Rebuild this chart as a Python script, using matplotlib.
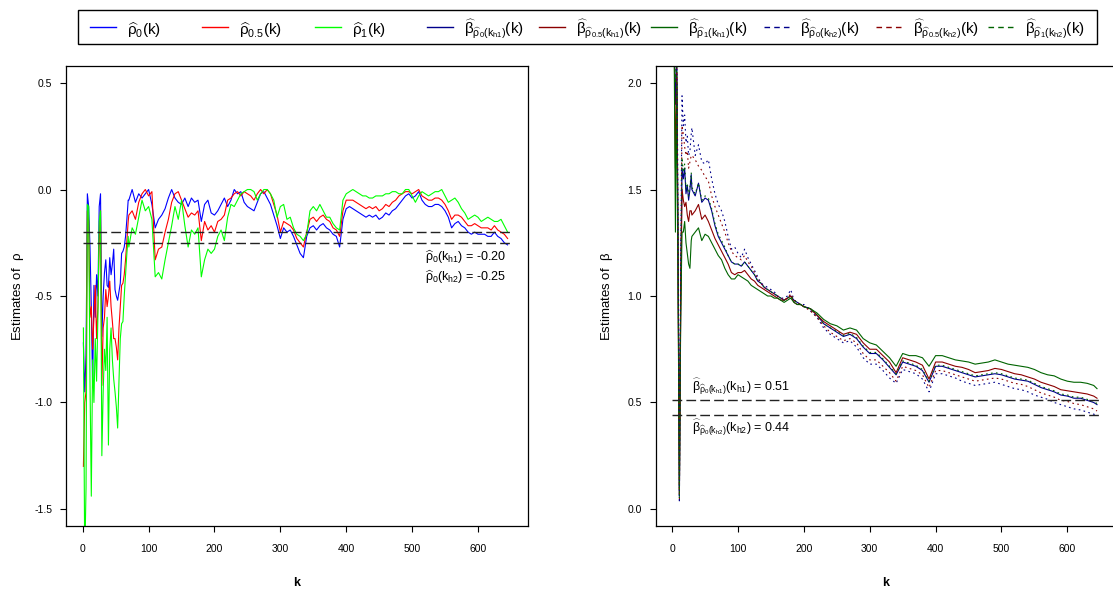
import matplotlib
matplotlib.use("Agg")
import matplotlib.pyplot as plt
from matplotlib.lines import Line2D
from matplotlib.patches import Rectangle

plt.rcParams["font.family"] = "Liberation Sans"
plt.rcParams["mathtext.fontset"] = "custom"
plt.rcParams["mathtext.rm"] = "Liberation Sans"
plt.rcParams["mathtext.it"] = "Liberation Sans"
plt.rcParams["mathtext.bf"] = "Liberation Sans:bold"
plt.rcParams["axes.unicode_minus"] = False

# ---- data ----
k_rho = list(range(1, 70, 2)) + list(range(70, 646, 5))

rho_0 = [-0.72, -0.95, -0.78, -0.02, -0.08, -0.27, -0.55, -0.93, -0.45, -0.60,
         -0.40, -0.50, -0.08, -0.02, -0.69, -0.50, -0.39, -0.33, -0.45, -0.46,
         -0.32, -0.40, -0.35, -0.28, -0.47, -0.50, -0.52, -0.48, -0.44, -0.30,
         -0.29, -0.27, -0.22, -0.14, -0.05,
         -0.05, 0.00, -0.06, -0.02, -0.04, -0.02, 0.00, -0.07, -0.18, -0.14,
         -0.12, -0.09, -0.04, 0.00, -0.04, -0.06, -0.07, -0.04, -0.08, -0.04,
         -0.06, -0.05, -0.15, -0.07, -0.05, -0.11, -0.12, -0.10, -0.07, -0.04,
         -0.08, -0.05, 0.00, -0.02, -0.01, -0.06, -0.08, -0.09, -0.10, -0.06,
         -0.02, -0.01, -0.04, -0.07, -0.12, -0.17, -0.23, -0.18, -0.20, -0.19,
         -0.22, -0.26, -0.30, -0.32, -0.22, -0.18, -0.17, -0.19, -0.17, -0.16,
         -0.18, -0.19, -0.21, -0.22, -0.27, -0.14, -0.09, -0.08, -0.09, -0.10,
         -0.11, -0.12, -0.13, -0.12, -0.13, -0.12, -0.14, -0.13, -0.11, -0.12,
         -0.10, -0.09, -0.07, -0.05, -0.03, -0.02, -0.04, -0.03, -0.01, -0.05,
         -0.07, -0.08, -0.08, -0.07, -0.07, -0.08, -0.10, -0.13, -0.18, -0.16,
         -0.15, -0.17, -0.18, -0.20, -0.21, -0.20, -0.21, -0.21, -0.21, -0.22,
         -0.22, -0.20, -0.22, -0.23, -0.25, -0.26]

rho_05 = [-1.30, -1.00, -0.95, -0.10, -0.15, -0.60, -0.55, -0.75, -0.60, -0.45,
          -0.70, -0.55, -0.25, -0.10, -0.92, -0.65, -0.60, -0.47, -0.55, -0.50,
          -0.43, -0.55, -0.62, -0.70, -0.70, -0.74, -0.80, -0.65, -0.55, -0.45,
          -0.44, -0.40, -0.33, -0.24, -0.15,
          -0.12, -0.10, -0.14, -0.06, -0.02, 0.00, -0.03, -0.01, -0.33, -0.28,
          -0.27, -0.20, -0.14, -0.06, -0.02, -0.01, -0.05, -0.09, -0.13, -0.11,
          -0.12, -0.10, -0.24, -0.15, -0.19, -0.17, -0.20, -0.15, -0.14, -0.12,
          -0.05, -0.04, -0.02, -0.01, -0.03, -0.01, -0.02, -0.03, -0.05, -0.02,
          0.00, -0.02, 0.00, -0.02, -0.07, -0.12, -0.20, -0.15, -0.16, -0.17,
          -0.19, -0.23, -0.25, -0.27, -0.20, -0.14, -0.13, -0.15, -0.13, -0.12,
          -0.14, -0.15, -0.18, -0.19, -0.22, -0.10, -0.05, -0.05, -0.05, -0.06,
          -0.07, -0.08, -0.09, -0.08, -0.09, -0.08, -0.10, -0.09, -0.07, -0.08,
          -0.06, -0.05, -0.03, -0.02, -0.01, -0.01, -0.02, -0.01, 0.00, -0.03,
          -0.04, -0.05, -0.05, -0.04, -0.04, -0.05, -0.07, -0.10, -0.14, -0.12,
          -0.12, -0.13, -0.15, -0.17, -0.17, -0.16, -0.17, -0.18, -0.18, -0.18,
          -0.19, -0.17, -0.19, -0.20, -0.21, -0.23]

rho_1 = [-0.65, -1.75, -1.40, -0.07, -0.08, -0.90, -1.44, -0.80, -1.00, -0.70,
         -0.90, -0.60, -0.15, -0.10, -1.25, -0.95, -0.75, -0.85, -0.60, -1.20,
         -0.75, -0.65, -0.80, -0.89, -0.95, -1.02, -1.12, -0.90, -0.70, -0.63,
         -0.62, -0.50, -0.40, -0.30, -0.22,
         -0.27, -0.18, -0.21, -0.13, -0.05, -0.10, -0.08, -0.14, -0.41, -0.39,
         -0.42, -0.33, -0.25, -0.17, -0.08, -0.14, -0.05, -0.17, -0.27, -0.19,
         -0.21, -0.18, -0.41, -0.33, -0.28, -0.30, -0.28, -0.22, -0.19, -0.24,
         -0.13, -0.07, -0.08, -0.05, -0.02, -0.01, 0.00, 0.00, -0.01, -0.05,
         -0.02, 0.00, 0.00, -0.02, -0.05, -0.13, -0.08, -0.07, -0.14, -0.13,
         -0.18, -0.21, -0.22, -0.24, -0.21, -0.10, -0.08, -0.10, -0.07, -0.10,
         -0.13, -0.13, -0.16, -0.18, -0.19, -0.05, -0.02, -0.01, 0.00, -0.01,
         -0.02, -0.03, -0.03, -0.04, -0.04, -0.03, -0.03, -0.03, -0.02, -0.02,
         -0.01, -0.01, -0.02, -0.02, 0.00, 0.00, -0.03, -0.06, -0.03, -0.01,
         -0.02, -0.03, -0.02, -0.01, -0.01, 0.00, -0.03, -0.06, -0.05, -0.04,
         -0.06, -0.09, -0.11, -0.14, -0.13, -0.12, -0.13, -0.15, -0.14, -0.13,
         -0.14, -0.15, -0.15, -0.14, -0.17, -0.20]

rho_h1, rho_h2 = -0.20, -0.25

k_beta = list(range(1, 30, 2)) + list(range(30, 201, 5)) + list(range(210, 641, 10)) + [645]

beta_0_h1 = [2.50, 2.30, 1.90, 2.10, 1.20, 0.06, 1.00, 1.60, 1.55, 1.60, 1.48, 1.52, 1.45, 1.50, 1.57,
             1.50, 1.47, 1.53, 1.44, 1.46, 1.45, 1.40, 1.33, 1.28, 1.25, 1.22, 1.19, 1.16, 1.15,
             1.15, 1.14, 1.16, 1.14, 1.12, 1.10, 1.07, 1.06, 1.04, 1.03, 1.02, 1.01, 1.00, 0.99,
             0.98, 0.99, 1.00, 0.98, 0.97, 0.96, 0.95,
             0.94, 0.91, 0.87, 0.85, 0.83, 0.81, 0.82, 0.80, 0.76, 0.73, 0.73, 0.70, 0.665, 0.63,
             0.69, 0.68, 0.67, 0.65, 0.595, 0.67, 0.67, 0.66, 0.65, 0.64, 0.63, 0.62, 0.625, 0.63,
             0.635, 0.63, 0.62, 0.61, 0.605, 0.60, 0.585, 0.57, 0.56, 0.55, 0.535, 0.53, 0.52,
             0.52, 0.51, 0.50, 0.49]

beta_05_h1 = [2.45, 2.25, 1.60, 2.05, 1.10, 0.08, 0.95, 1.50, 1.45, 1.42, 1.44, 1.38, 1.35, 1.40, 1.40,
              1.38, 1.40, 1.43, 1.36, 1.38, 1.35, 1.31, 1.27, 1.24, 1.21, 1.18, 1.15, 1.11, 1.10,
              1.11, 1.11, 1.12, 1.10, 1.08, 1.07, 1.05, 1.04, 1.03, 1.02, 1.01, 1.00, 0.99, 0.98,
              0.98, 0.99, 1.00, 0.97, 0.96, 0.96, 0.95,
              0.94, 0.91, 0.88, 0.86, 0.84, 0.82, 0.83, 0.82, 0.78, 0.75, 0.75, 0.72, 0.69, 0.64,
              0.71, 0.70, 0.69, 0.675, 0.61, 0.69, 0.69, 0.68, 0.67, 0.665, 0.655, 0.64, 0.645,
              0.65, 0.66, 0.655, 0.645, 0.635, 0.63, 0.62, 0.61, 0.595, 0.585, 0.575, 0.56, 0.555,
              0.55, 0.545, 0.54, 0.53, 0.52]

beta_1_h1 = [2.40, 2.20, 1.30, 2.00, 1.00, 0.10, 0.90, 1.30, 1.30, 1.35, 1.25, 1.20, 1.15, 1.13, 1.26,
             1.28, 1.30, 1.32, 1.26, 1.29, 1.28, 1.25, 1.22, 1.19, 1.17, 1.13, 1.10, 1.08, 1.08,
             1.10, 1.09, 1.08, 1.07, 1.05, 1.04, 1.03, 1.02, 1.01, 1.00, 1.00, 0.99, 0.99, 0.98,
             0.97, 0.98, 0.99, 0.97, 0.96, 0.96, 0.95,
             0.94, 0.92, 0.89, 0.87, 0.86, 0.84, 0.85, 0.84, 0.80, 0.78, 0.77, 0.74, 0.71, 0.67,
             0.73, 0.72, 0.72, 0.71, 0.67, 0.72, 0.72, 0.71, 0.70, 0.695, 0.69, 0.68, 0.685, 0.69,
             0.70, 0.69, 0.68, 0.675, 0.67, 0.665, 0.655, 0.64, 0.63, 0.625, 0.61, 0.60, 0.595,
             0.595, 0.59, 0.58, 0.565]

beta_0_h2 = [2.60, 2.40, 2.30, 2.20, 1.40, 0.03, 1.20, 1.94, 1.80, 1.85, 1.72, 1.75, 1.66, 1.68, 1.76,
             1.79, 1.66, 1.71, 1.63, 1.62, 1.64, 1.55, 1.48, 1.43, 1.40, 1.35, 1.28, 1.22, 1.23,
             1.20, 1.18, 1.22, 1.18, 1.15, 1.12, 1.09, 1.06, 1.05, 1.04, 1.03, 1.02, 1.00, 0.99,
             0.99, 1.00, 1.03, 0.98, 0.97, 0.96, 0.96,
             0.93, 0.90, 0.85, 0.82, 0.80, 0.78, 0.79, 0.76, 0.71, 0.68, 0.68, 0.65, 0.615, 0.59,
             0.655, 0.645, 0.635, 0.61, 0.55, 0.635, 0.635, 0.625, 0.615, 0.60, 0.59, 0.58, 0.585,
             0.59, 0.595, 0.585, 0.575, 0.565, 0.56, 0.55, 0.535, 0.525, 0.515, 0.50, 0.49, 0.48,
             0.47, 0.465, 0.455, 0.445, 0.44]

beta_05_h2 = [2.55, 2.35, 2.10, 2.15, 1.30, 0.05, 1.10, 1.80, 1.76, 1.70, 1.66, 1.68, 1.60, 1.63, 1.66,
              1.66, 1.64, 1.61, 1.59, 1.56, 1.54, 1.47, 1.42, 1.38, 1.34, 1.30, 1.25, 1.21, 1.19,
              1.18, 1.17, 1.19, 1.16, 1.14, 1.11, 1.08, 1.06, 1.04, 1.03, 1.02, 1.01, 1.00, 0.99,
              0.98, 0.99, 1.01, 0.98, 0.97, 0.96, 0.95,
              0.93, 0.90, 0.86, 0.83, 0.81, 0.79, 0.80, 0.78, 0.73, 0.70, 0.70, 0.67, 0.64, 0.60,
              0.67, 0.66, 0.65, 0.63, 0.57, 0.65, 0.65, 0.64, 0.63, 0.62, 0.61, 0.60, 0.605, 0.61,
              0.615, 0.61, 0.60, 0.59, 0.585, 0.575, 0.56, 0.545, 0.535, 0.525, 0.51, 0.505, 0.495,
              0.49, 0.48, 0.47, 0.46]

beta_1_h2 = [2.50, 2.30, 2.00, 2.10, 1.25, 0.05, 1.05, 1.65, 1.58, 1.62, 1.50, 1.53, 1.47, 1.51, 1.58,
             1.51, 1.48, 1.53, 1.45, 1.47, 1.46, 1.41, 1.34, 1.29, 1.26, 1.23, 1.19, 1.16, 1.15,
             1.15, 1.14, 1.16, 1.14, 1.12, 1.10, 1.07, 1.06, 1.04, 1.03, 1.02, 1.01, 1.00, 0.99,
             0.98, 0.99, 1.00, 0.98, 0.97, 0.96, 0.95,
             0.94, 0.91, 0.87, 0.85, 0.835, 0.815, 0.825, 0.805, 0.765, 0.735, 0.735, 0.705, 0.67,
             0.635, 0.695, 0.685, 0.675, 0.655, 0.60, 0.675, 0.675, 0.665, 0.655, 0.645, 0.635,
             0.625, 0.63, 0.635, 0.64, 0.635, 0.625, 0.615, 0.61, 0.605, 0.59, 0.575, 0.565, 0.555,
             0.54, 0.535, 0.525, 0.525, 0.515, 0.505, 0.495]

beta_h1, beta_h2 = 0.51, 0.44

for s in (rho_0, rho_05, rho_1):
    assert len(s) == len(k_rho), (len(s), len(k_rho))
for s in (beta_0_h1, beta_05_h1, beta_1_h1, beta_0_h2, beta_05_h2, beta_1_h2):
    assert len(s) == len(k_beta), (len(s), len(k_beta))

rho_labels = [r"$\widehat{\rho}_0(k)$", r"$\widehat{\rho}_{0.5}(k)$", r"$\widehat{\rho}_1(k)$"]
beta_labels = [r"$\widehat{\beta}_{\widehat{\rho}_{0}(k_{h1})}(k)$",
               r"$\widehat{\beta}_{\widehat{\rho}_{0.5}(k_{h1})}(k)$",
               r"$\widehat{\beta}_{\widehat{\rho}_{1}(k_{h1})}(k)$",
               r"$\widehat{\beta}_{\widehat{\rho}_{0}(k_{h2})}(k)$",
               r"$\widehat{\beta}_{\widehat{\rho}_{0.5}(k_{h2})}(k)$",
               r"$\widehat{\beta}_{\widehat{\rho}_{1}(k_{h2})}(k)$"]

# ---- figure ----
W, H = 1113, 591
fig = plt.figure(figsize=(W / 100, H / 100), dpi=100)
ax1 = fig.add_axes([66.3 / W, 65 / H, 461.7 / W, 460 / H])
ax2 = fig.add_axes([655.7 / W, 65 / H, 461.7 / W, 460 / H])

lw = 0.8
dot = (0, (1.5, 3))
ax1.plot(k_rho, rho_0, color="#0000FF", lw=lw)
ax1.plot(k_rho, rho_05, color="#FF0000", lw=lw)
ax1.plot(k_rho, rho_1, color="#00FF00", lw=lw)
for v in (rho_h1, rho_h2):
    ax1.hlines(v, 0, k_rho[-1] + 3, colors="#222222", lw=1.0, linestyles=(0, (7, 3)))

ax2.plot(k_beta, beta_0_h1, color="#00008B", lw=lw)
ax2.plot(k_beta, beta_05_h1, color="#8B0000", lw=lw)
ax2.plot(k_beta, beta_1_h1, color="#006400", lw=lw)
ax2.plot(k_beta, beta_0_h2, color="#00008B", lw=lw, ls=dot)
ax2.plot(k_beta, beta_05_h2, color="#8B0000", lw=lw, ls=dot)
ax2.plot(k_beta, beta_1_h2, color="#006400", lw=lw, ls=dot)
for v in (beta_h1, beta_h2):
    ax2.hlines(v, 0, k_beta[-1] + 3, colors="#222222", lw=1.0, linestyles=(0, (7, 3)))

ax1.text(520, -0.317, r"$\widehat{\rho}_0(k_{h1})$ = %.2f" % rho_h1, fontsize=9, va="center")
ax1.text(520, -0.411, r"$\widehat{\rho}_0(k_{h2})$ = %.2f" % rho_h2, fontsize=9, va="center")
ax2.text(30, 0.572, r"$\widehat{\beta}_{\widehat{\rho}_0(k_{h1})}(k_{h1})$ = %.2f" % beta_h1,
         fontsize=9, va="center")
ax2.text(30, 0.38, r"$\widehat{\beta}_{\widehat{\rho}_0(k_{h2})}(k_{h2})$ = %.2f" % beta_h2,
         fontsize=9, va="center")

for ax, lims, ticks in ((ax1, (-1.58, 0.58), [-1.5, -1.0, -0.5, 0.0, 0.5]),
                        (ax2, (-0.08, 2.08), [0.0, 0.5, 1.0, 1.5, 2.0])):
    ax.set_xlim(-24.96, 675.96)
    ax.set_ylim(*lims)
    ax.set_xticks(range(0, 601, 100))
    ax.set_yticks(ticks)
    ax.set_yticklabels(["%.1f" % t for t in ticks])
    ax.tick_params(direction="out", length=4, width=0.8, labelsize=7.5, color="black")
    ax.tick_params(axis="x", pad=9)
    ax.tick_params(axis="y", pad=6)
    for sp in ax.spines.values():
        sp.set_linewidth(0.9)
        sp.set_color("black")

fig.text(18 / W, 1 - 296 / H, r"Estimates of  $\rho$", rotation=90, ha="center", va="center", fontsize=9.5)
fig.text(607 / W, 1 - 296 / H, r"Estimates of  $\beta$", rotation=90, ha="center", va="center", fontsize=9.5)
fig.text(297 / W, 1 - 583 / H, "k", ha="center", va="center", fontsize=9, fontweight="bold")
fig.text(886 / W, 1 - 583 / H, "k", ha="center", va="center", fontsize=9, fontweight="bold")

# ---- legend box across the top ----
fig.add_artist(Rectangle((78 / W, 1 - 44 / H), 1019 / W, 34 / H, transform=fig.transFigure,
                         fill=False, edgecolor="black", lw=1.0))
leg_colors = ["#0000FF", "#FF0000", "#00FF00", "#00008B", "#8B0000", "#006400",
              "#00008B", "#8B0000", "#006400"]
leg_styles = ["-"] * 6 + [(0, (4, 3))] * 3
for i, (lab, col, st) in enumerate(zip(rho_labels + beta_labels, leg_colors, leg_styles)):
    x0 = 90 + i * 112.25
    fig.add_artist(Line2D([x0 / W, (x0 + 26) / W], [1 - 27 / H, 1 - 27 / H],
                          transform=fig.transFigure, color=col, lw=1.0, ls=st))
    fig.text((x0 + 37) / W, 1 - 35 / H, lab, fontsize=11, va="baseline", ha="left")

fig.savefig("out.png", dpi=100)
